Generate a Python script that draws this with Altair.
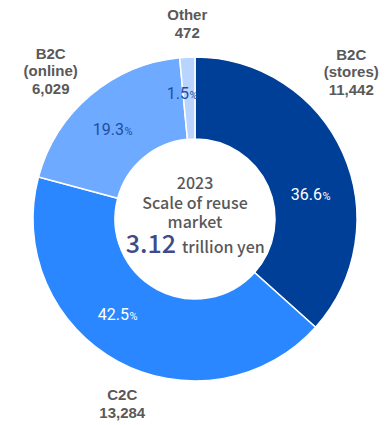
import altair as alt
import pandas as pd

# ---- data ----
categories = ["B2C (stores)", "C2C", "B2C (online)", "Other"]
name_lines = ["B2C\n(stores)", "C2C", "B2C\n(online)", "Other"]
values = [11442, 13284, 6029, 472]          # 100 million yen
year = "2023"
caption = "Scale of reuse\nmarket"
unit = "trillion yen"

# ---- styles (kept apart from data) ----
slice_colors = ["#003f98", "#2a87ff", "#6eaaff", "#b9d5ff"]
pct_colors = ["#ffffff", "#ffffff", "#1f4e9e", "#1f4e9e"]
CX, CY = 187, 211
R_OUT, R_IN = 162, 80
R_PCT, R_NAME = 122, 205
NAME_LH = 17.5
pct_offsets = [(15.6, 30.7), (-7.8, -6.3), (7.7, 9.2), (-0.3, 1.9)]
name_offsets = [(-31, -63), (25, 5), (-12, 9), (2, 10)]

total = sum(values)
df = pd.DataFrame({
    "category": categories,
    "value": values,
    "order": list(range(len(values))),
    "pct": [f"{v / total * 100:.1f}" for v in values],
    "name": [f"{n}\n{v:,}" for n, v in zip(name_lines, values)],
})

theta_scale = alt.Scale(domain=[0, total])

base = alt.Chart(df).transform_window(
    cum="sum(value)", sort=[alt.SortField("order")], frame=[None, 0]
).transform_calculate(mid="datum.cum - datum.value / 2")

arc = alt.Chart(df).mark_arc(
    innerRadius=R_IN, outerRadius=R_OUT, stroke="white", strokeWidth=1.5
).encode(
    theta=alt.Theta("value:Q", stack=True, scale=theta_scale),
    order=alt.Order("order:Q"),
    color=alt.Color("category:N", scale=alt.Scale(domain=categories, range=slice_colors), legend=None),
    x=alt.value(CX), y=alt.value(CY),
)

layers = [arc]
for i, cat in enumerate(categories):
    sub = base.transform_filter(alt.datum.category == cat)
    enc = dict(theta=alt.Theta("mid:Q", stack=None, scale=theta_scale),
               x=alt.value(CX), y=alt.value(CY))
    dx, dy = pct_offsets[i]
    layers.append(sub.mark_text(
        radius=R_PCT, dx=dx, dy=dy, align="right", baseline="alphabetic",
        font="Roboto", fontSize=16, color=pct_colors[i]
    ).encode(text="pct:N", **enc))
    layers.append(sub.mark_text(
        radius=R_PCT, dx=dx + 0.5, dy=dy, align="left", baseline="alphabetic",
        font="Roboto", fontSize=11, color=pct_colors[i]
    ).encode(text=alt.value("%"), **enc))
    ndx, ndy = name_offsets[i]
    n_lines = name_lines[i].count("\n") + 2
    layers.append(sub.mark_text(
        radius=R_NAME, dx=ndx, dy=ndy - (n_lines - 1) * NAME_LH / 2,
        align="center", baseline="middle",
        lineBreak="\n", lineHeight=NAME_LH,
        font="Liberation Sans", fontSize=15, fontWeight="bold", color="#595959"
    ).encode(text="name:N", **enc))

center_df = pd.DataFrame({
    "head": [f"{year}\n{caption}"],
    "total": [f"{total / 10000:.2f}"],
    "unit": [unit],
})
cbase = alt.Chart(center_df).encode(x=alt.value(CX), y=alt.value(CY))
layers.append(cbase.mark_text(
    dy=-35, align="center", baseline="middle", lineBreak="\n", lineHeight=19.5,
    font="Noto Sans CJK JP", fontSize=16, fontWeight=500, color="#595959"
).encode(text="head:N"))
layers.append(cbase.mark_text(
    dx=-19, dy=34, align="right", baseline="alphabetic",
    font="Noto Sans CJK JP", fontSize=25, fontWeight=500, color="#3d4b8a"
).encode(text="total:N"))
layers.append(cbase.mark_text(
    dx=-13, dy=34, align="left", baseline="alphabetic",
    font="Noto Sans CJK JP", fontSize=16, fontWeight=500, color="#595959"
).encode(text="unit:N"))

chart = alt.layer(*layers).properties(
    width=372, height=417, autosize="none", padding=0
).configure_view(stroke=None)

chart.save("out.html", embed_options={"renderer": "svg", "actions": False})
